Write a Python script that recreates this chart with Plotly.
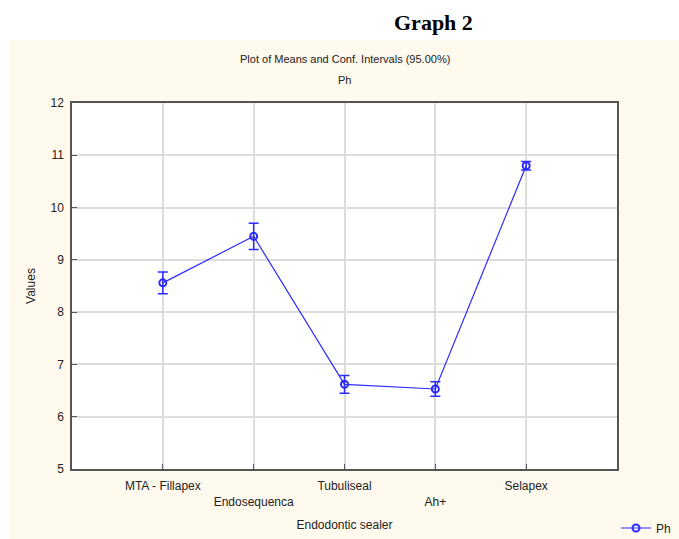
import plotly.graph_objects as go

categories = ["MTA - Fillapex", "Endosequenca", "Tubuliseal", "Ah+", "Selapex"]
tick_labels = ["MTA - Fillapex", "<br>Endosequenca", "Tubuliseal", "<br>Ah+", "Selapex"]
means = [8.56, 9.45, 6.62, 6.53, 10.80]
ci_half = [0.21, 0.25, 0.17, 0.14, 0.08]
y_ticks = [5, 6, 7, 8, 9, 10, 11, 12]

xpos = list(range(len(categories)))
blue = "#2b2bff"

fig = go.Figure()
fig.add_trace(go.Scatter(
    x=xpos, y=means, name="Ph", mode="lines+markers",
    line=dict(color=blue, width=1.2),
    marker=dict(symbol="circle-open", size=7, color=blue, line=dict(width=2, color=blue)),
    error_y=dict(type="data", array=ci_half, visible=True, color=blue, thickness=1.5, width=5),
))

W, H = 679, 539
L, R, T, B = 72, 617, 103, 469
pw, ph = R - L, B - T

def px(x):
    return (x - L) / pw

def py(y):
    return (B - y) / ph

fig.add_shape(type="rect", xref="paper", yref="paper",
              x0=px(10), x1=px(690), y0=py(545), y1=py(40),
              fillcolor="#FFF9EE", line=dict(width=0), layer="below")
fig.add_shape(type="rect", xref="paper", yref="paper",
              x0=0, x1=1, y0=0, y1=1,
              fillcolor="white", line=dict(width=0), layer="below")

font = "Arial, Liberation Sans, sans-serif"
fig.add_annotation(text="<b>Graph 2</b>", xref="paper", yref="paper", x=px(433), y=py(23),
                   showarrow=False, xanchor="center", yanchor="middle",
                   font=dict(family="Liberation Serif, Times New Roman, serif", size=22, color="black"))
fig.add_annotation(text="Plot of Means and Conf. Intervals (95.00%)", xref="paper", yref="paper",
                   x=0.5, y=py(59), showarrow=False, xanchor="center", yanchor="middle",
                   font=dict(family=font, size=11, color="#222222"))
fig.add_annotation(text="Ph", xref="paper", yref="paper",
                   x=0.5, y=py(80), showarrow=False, xanchor="center", yanchor="middle",
                   font=dict(family=font, size=11, color="#222222"))

axis_common = dict(showline=True, linecolor="#555555", linewidth=1.5, mirror=True,
                   showgrid=True, gridcolor="#dcdcdc", gridwidth=1.5,
                   ticks="inside", ticklen=5, tickcolor="#555555",
                   tickfont=dict(family=font, size=12, color="#222222"),
                   zeroline=False)

fig.update_layout(
    width=W, height=H,
    margin=dict(l=L, r=W - R, t=T, b=H - B, autoexpand=False),
    paper_bgcolor="white", plot_bgcolor="white",
    showlegend=True,
    legend=dict(xref="container", yref="container",
                x=616 / W, y=1 - 528 / H, xanchor="left", yanchor="middle",
                bgcolor="rgba(0,0,0,0)", font=dict(family=font, size=12, color="#222222"),
                itemwidth=30),
    xaxis=dict(range=[-1, 5], tickmode="array", tickvals=xpos, ticktext=tick_labels,
               ticklabelstandoff=5,
               title=dict(text="Endodontic sealer", standoff=13,
                          font=dict(family=font, size=12, color="#222222")),
               **axis_common),
    yaxis=dict(range=[5, 12], tickmode="array", tickvals=y_ticks,
               ticklabelstandoff=4,
               title=dict(text="Values", standoff=12,
                          font=dict(family=font, size=12, color="#222222")),
               **axis_common),
)

fig.write_html("out.html", config={"displayModeBar": False},
               post_script="document.body.style.margin='0';")
